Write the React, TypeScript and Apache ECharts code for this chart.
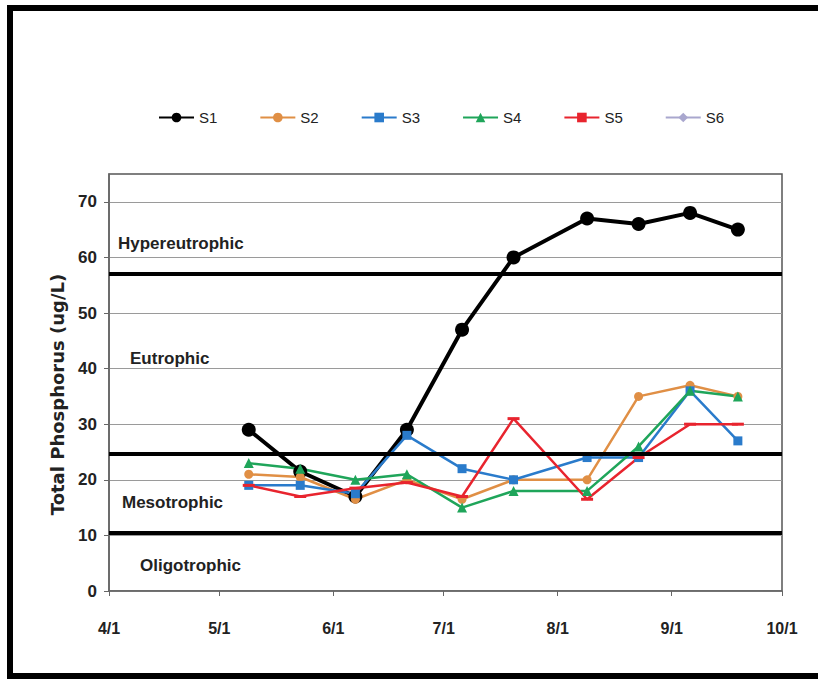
import React, { useEffect, useRef } from "react";
import * as echarts from "echarts";

const SAMPLE_DATES = ["5/9", "5/23", "6/7", "6/21", "7/6", "7/20", "8/9", "8/23", "9/6", "9/19"];
const S1 = [29, 21.5, 17, 29, 47, 60, 67, 66, 68, 65];
const S2 = [21, 20.5, 16.5, 20, 16.5, 20, 20, 35, 37, 35];
const S3 = [19, 19, 17.5, 28, 22, 20, 24, 24, 36, 27];
const S4 = [23, 22, 20, 21, 15, 18, 18, 26, 36, 35];
const S5 = [19, 17, 18.5, 19.5, 17, 31, 16.5, 24, 30, 30];
const S6: (number | null)[] = [null, null, null, null, null, null, null, null, null, null];
const SERIES_NAMES = ["S1", "S2", "S3", "S4", "S5", "S6"];
const X_TICK_LABELS = ["4/1", "5/1", "6/1", "7/1", "8/1", "9/1", "10/1"];
const Y_TICKS = [0, 10, 20, 30, 40, 50, 60, 70];
const THRESHOLDS = [57, 24.6, 10.4];
const ZONE_LABELS = ["Hypereutrophic", "Eutrophic", "Mesotrophic", "Oligotrophic"];

const dayOffset = (md: string) => {
  const [m, d] = md.split("/").map(Number);
  return Math.round((Date.UTC(2010, m - 1, d) - Date.UTC(2010, 3, 1)) / 86400000);
};

const FONT = "'Liberation Sans', Arial, sans-serif";

export default function App() {
  const ref = useRef<HTMLDivElement>(null);
  useEffect(() => {
    document.body.style.margin = "0";
    const chart = echarts.init(ref.current!, null, { renderer: "svg" });
    const xTickVals = X_TICK_LABELS.map(dayOffset);
    const mk = (vals: (number | null)[]) => SAMPLE_DATES.map((d, i) => [dayOffset(d), vals[i]]);
    const common = { type: "line", connectNulls: false, emphasis: { disabled: true } };
    const zonePos = [
      { x: 118, y: 243 },
      { x: 130, y: 358 },
      { x: 122, y: 502 },
      { x: 140, y: 565 },
    ];
    chart.setOption({
      animation: false,
      backgroundColor: "#fff",
      textStyle: { fontFamily: FONT },
      legend: {
        data: SERIES_NAMES,
        left: 153,
        top: 105,
        itemWidth: 35,
        itemHeight: 12,
        itemGap: 42,
        textStyle: { fontSize: 15, color: "#222", fontFamily: FONT },
      },
      grid: {
        left: 109,
        right: 36,
        top: 174,
        bottom: 88,
        show: true,
        borderColor: "#555",
        borderWidth: 1.5,
        backgroundColor: "transparent",
      },
      xAxis: {
        type: "value",
        min: 0,
        max: dayOffset("10/1"),
        axisLine: { show: true, lineStyle: { color: "#666", width: 1.5 } },
        axisTick: { show: true, length: 5, customValues: xTickVals, lineStyle: { color: "#666" } },
        splitLine: { show: false },
        axisLabel: {
          customValues: xTickVals,
          margin: 29,
          fontSize: 16,
          fontWeight: "bold",
          color: "#222",
          fontFamily: FONT,
          formatter: (v: number) => X_TICK_LABELS[xTickVals.indexOf(Math.round(v))] ?? "",
        },
      },
      yAxis: {
        type: "value",
        min: 0,
        max: 75,
        interval: 10,
        name: "Total Phosphorus (ug/L)",
        nameLocation: "middle",
        nameGap: 43,
        nameTextStyle: {
          fontSize: 18,
          fontWeight: "bold",
          color: "#222",
          fontFamily: "'DejaVu Sans', sans-serif",
          padding: [0, 24, 0, 0],
        },
        axisLine: { show: true, lineStyle: { color: "#666", width: 1.5 } },
        axisTick: { show: true, length: 5, customValues: Y_TICKS, lineStyle: { color: "#666" } },
        axisLabel: {
          customValues: Y_TICKS,
          margin: 12,
          fontSize: 17,
          fontWeight: "bold",
          color: "#222",
          fontFamily: FONT,
        },
        splitLine: { show: true, lineStyle: { color: "#9a9a9a", width: 1 } },
      },
      series: [
        {
          ...common,
          name: "S1",
          data: mk(S1),
          color: "#000",
          symbol: "circle",
          symbolSize: 14,
          lineStyle: { width: 4, color: "#000" },
          markLine: {
            silent: true,
            symbol: "none",
            label: { show: false },
            lineStyle: { color: "#000", width: 4, type: "solid" },
            data: THRESHOLDS.map((t) => ({ yAxis: t })),
          },
        },
        { ...common, name: "S2", data: mk(S2), color: "#E08F45", symbol: "circle", symbolSize: 9, lineStyle: { width: 2.5 } },
        { ...common, name: "S3", data: mk(S3), color: "#2A7BCB", symbol: "rect", symbolSize: 9, lineStyle: { width: 2.5 } },
        { ...common, name: "S4", data: mk(S4), color: "#1FA55A", symbol: "triangle", symbolSize: 10, lineStyle: { width: 2.5 } },
        { ...common, name: "S5", data: mk(S5), color: "#E8242E", symbol: "rect", symbolSize: [12, 3], lineStyle: { width: 2.5 } },
        { ...common, name: "S6", data: mk(S6), color: "#A9A7CE", symbol: "diamond", symbolSize: 9, lineStyle: { width: 2.5 } },
      ],
      graphic: [
        {
          type: "rect",
          shape: { x: 10, y: 8, width: 830, height: 668 },
          style: { fill: "none", stroke: "#000", lineWidth: 6 },
          silent: true,
        },
        ...ZONE_LABELS.map((t, i) => ({
          type: "text",
          x: zonePos[i].x,
          y: zonePos[i].y,
          style: {
            text: t,
            font: `bold 17px ${FONT}`,
            fill: "#222",
            textVerticalAlign: "middle",
          },
          silent: true,
        })),
      ],
    });
    return () => chart.dispose();
  }, []);
  return <div ref={ref} style={{ position: "absolute", left: 0, top: 0, width: 818, height: 679 }} />;
}
